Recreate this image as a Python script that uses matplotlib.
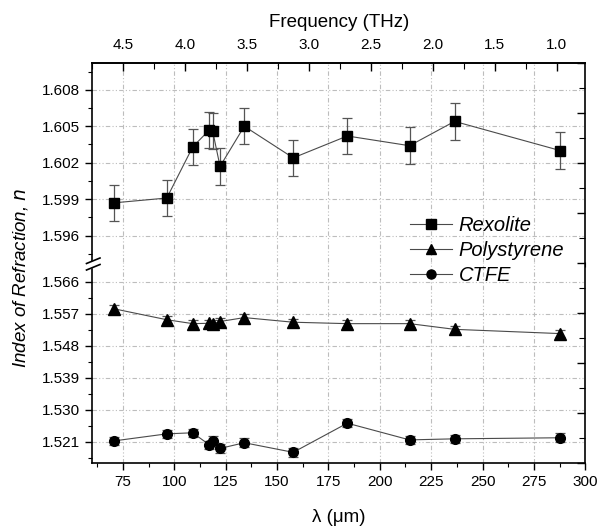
import matplotlib
matplotlib.use("Agg")
import matplotlib.pyplot as plt
from matplotlib.lines import Line2D
from matplotlib.patches import Polygon
from matplotlib.ticker import MultipleLocator, FormatStrFormatter

plt.rcParams['font.family'] = ['Liberation Sans', 'DejaVu Sans']

# wavelength (um) of each measurement
wavelength = [70.5, 96.4, 109.0, 117.1, 118.7, 122.3, 134.1, 157.9, 184.2, 214.5, 236.4, 287.8]

n_rexolite = [1.5987, 1.5991, 1.6033, 1.6047, 1.6046, 1.6017, 1.6050, 1.6024, 1.6042, 1.6034, 1.6054, 1.6030]
n_polystyrene = [1.5584, 1.5553, 1.5542, 1.5543, 1.5541, 1.5548, 1.5559, 1.5546, 1.5542, 1.5542, 1.5526, 1.5514]
n_ctfe = [1.5212, 1.5232, 1.5235, 1.5201, 1.5213, 1.5191, 1.5207, 1.5180, 1.5262, 1.5215, 1.5218, 1.5221]

err_rexolite = 0.0015
err_polystyrene = 0.0010
err_ctfe = 0.0012

top_ticks = [4.5, 4.0, 3.5, 3.0, 2.5, 2.0, 1.5, 1.0]

W, H = 598, 531
fig = plt.figure(figsize=(W / 100, H / 100), dpi=100)

def fx(px):
    return px / W

def fy(py):
    return 1 - py / H

left, right, top, split, bottom = 92, 585.3, 63, 262, 463
ax_t = fig.add_axes([fx(left), fy(split), fx(right) - fx(left), fy(top) - fy(split)])
ax_b = fig.add_axes([fx(left), fy(bottom), fx(right) - fx(left), fy(split) - fy(bottom)])

grid_kw = dict(color='#bdbdbd', lw=0.8, linestyle=(0, (4, 2, 1, 2, 1, 2)))
line_col = '#4a4a4a'
err_kw = dict(ecolor='#555555', elinewidth=0.9, capsize=3.5, capthick=0.9)

for ax in (ax_t, ax_b):
    ax.set_xlim(60, 300)
    ax.xaxis.set_major_locator(MultipleLocator(25))
    ax.xaxis.set_minor_locator(MultipleLocator(12.5))
    ax.grid(True, which='major', **grid_kw)
    ax.set_axisbelow(True)
    ax.spines['right'].set_visible(False)
    ax.tick_params(axis='y', which='both', direction='out', right=False, labelsize=11)
    ax.tick_params(axis='y', which='major', length=5, width=1)
    ax.tick_params(axis='y', which='minor', length=3, width=0.8)
    for s in ax.spines.values():
        s.set_linewidth(1.2)

# top segment: Rexolite
ax_t.errorbar(wavelength, n_rexolite, yerr=err_rexolite, color=line_col, lw=0.8,
              marker='s', ms=7, mfc='black', mec='black', **err_kw)
ax_t.set_ylim(1.59384, 1.6102)
ax_t.yaxis.set_major_locator(MultipleLocator(0.003))
ax_t.yaxis.set_minor_locator(MultipleLocator(0.0015))
ax_t.yaxis.set_major_formatter(FormatStrFormatter('%.3f'))
ax_t.spines['bottom'].set_visible(False)
ax_t.tick_params(axis='x', which='both', bottom=False, labelbottom=False, top=False)

# bottom segment: Polystyrene, CTFE
ax_b.errorbar(wavelength, n_polystyrene, yerr=err_polystyrene, color=line_col, lw=0.8,
              marker='^', ms=8, mfc='black', mec='black', **err_kw)
ax_b.errorbar(wavelength, n_ctfe, yerr=err_ctfe, color=line_col, lw=0.8,
              marker='o', ms=7, mfc='black', mec='black', **err_kw)
ax_b.set_ylim(1.515, 1.57154)
ax_b.yaxis.set_major_locator(MultipleLocator(0.009))
ax_b.yaxis.set_minor_locator(MultipleLocator(0.0045))
ax_b.yaxis.set_major_formatter(FormatStrFormatter('%.3f'))
ax_b.spines['top'].set_visible(False)
ax_b.tick_params(axis='x', which='both', direction='out', top=False, labelsize=11)
ax_b.tick_params(axis='x', which='major', length=5, width=1)
ax_b.tick_params(axis='x', which='minor', length=3, width=0.8)
ax_b.set_xticks([75, 100, 125, 150, 175, 200, 225, 250, 275, 300])

# frequency axis on top (linear, as in the original)
ax_f = ax_t.twiny()
ax_f.set_xlim(4.753, 0.769)
ax_f.set_xticks(top_ticks)
ax_f.xaxis.set_major_formatter(FormatStrFormatter('%.1f'))
ax_f.xaxis.set_minor_locator(MultipleLocator(0.25))
ax_f.tick_params(axis='x', which='both', direction='in', labelsize=11)
ax_f.tick_params(axis='x', which='major', length=6, width=1, pad=8)
ax_f.tick_params(axis='x', which='minor', length=4, width=0.8)
ax_f.set_xlabel('Frequency (THz)', fontsize=13.5, labelpad=8)
for s in ax_f.spines.values():
    s.set_visible(False)
ax_f.spines['top'].set_visible(True)
ax_f.spines['top'].set_linewidth(1.2)

# right spine: continuous with its own ticks
ax_r = fig.add_axes([fx(left), fy(bottom), fx(right) - fx(left), fy(top) - fy(bottom)])
ax_r.patch.set_visible(False)
ax_r.set_ylim(0, 8)
ax_r.set_xticks([])
for k, s in ax_r.spines.items():
    s.set_visible(k == 'right')
ax_r.spines['right'].set_linewidth(1.2)
ax_r.yaxis.tick_right()
ax_r.yaxis.set_major_locator(MultipleLocator(1))
ax_r.yaxis.set_minor_locator(MultipleLocator(0.5))
ax_r.tick_params(axis='y', which='both', direction='in', labelright=False)
ax_r.tick_params(axis='y', which='major', length=6, width=1)
ax_r.tick_params(axis='y', which='minor', length=4, width=0.8)

# axis break marks
fig.add_artist(Polygon([(fx(86), fy(264)), (fx(100), fy(258.5)), (fx(100), fy(264.5)), (fx(86), fy(270))],
                       closed=True, transform=fig.transFigure, color='white', zorder=10))
for dy in (0, 6.5):
    fig.add_artist(Line2D([fx(86.5), fx(100)], [fy(263.5 + dy), fy(258 + dy)],
                          transform=fig.transFigure, color='black', lw=1.2, zorder=11))

fig.text(fx(338.5), fy(518), 'λ (μm)', ha='center', va='center', fontsize=13.5)
fig.text(fx(21), fy(278), 'Index of Refraction, $n$', ha='center', va='center',
         rotation=90, fontsize=13.5, style='italic')

handles = [
    Line2D([], [], color=line_col, lw=0.8, marker='s', ms=6.5, mfc='black', mec='black'),
    Line2D([], [], color=line_col, lw=0.8, marker='^', ms=7, mfc='black', mec='black'),
    Line2D([], [], color=line_col, lw=0.8, marker='o', ms=6.5, mfc='black', mec='black'),
]
leg = fig.legend(handles, ['Rexolite', 'Polystyrene', 'CTFE'], loc='upper left',
                 bbox_to_anchor=(fx(400), fy(206)), frameon=False,
                 prop={'style': 'italic', 'size': 14.5}, handlelength=2.1,
                 handletextpad=0.3, labelspacing=0.3, borderpad=0)

fig.savefig('out.png', dpi=100)
